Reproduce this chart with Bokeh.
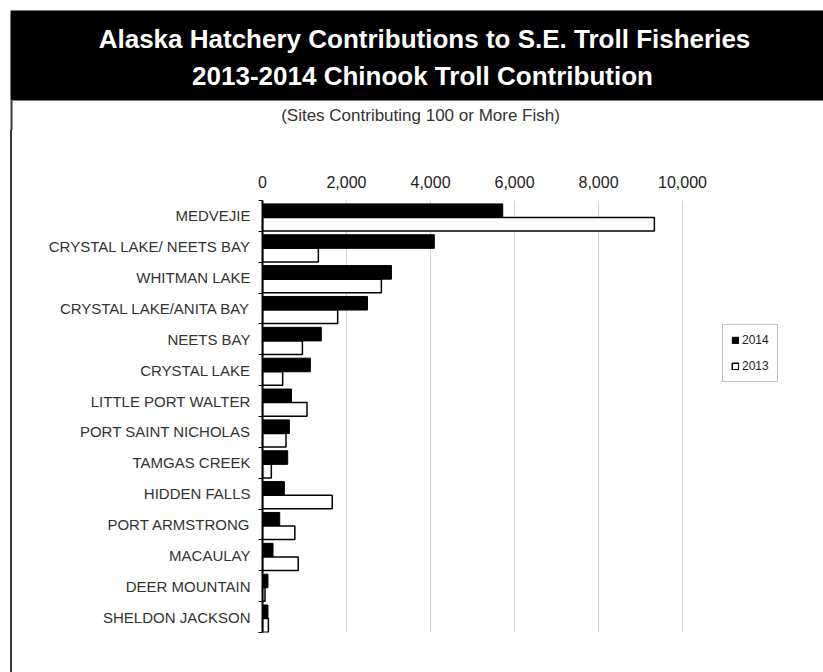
from bokeh.plotting import figure
from bokeh.layouts import column, row
from bokeh.models import (ColumnDataSource, Range1d, LinearAxis, Spacer,
                          FixedTicker, NumeralTickFormatter, Label, BoxAnnotation, Legend, LegendItem, Grid)
from bokeh.transform import dodge
from bokeh.embed import file_html
from bokeh.resources import INLINE

title1 = "Alaska Hatchery Contributions to S.E. Troll Fisheries"
title2 = "2013-2014 Chinook Troll Contribution"
subtitle = "(Sites Contributing 100 or More Fish)"

sites = ["MEDVEJIE", "CRYSTAL LAKE/ NEETS BAY", "WHITMAN LAKE", "CRYSTAL LAKE/ANITA BAY",
         "NEETS BAY", "CRYSTAL LAKE", "LITTLE PORT WALTER", "PORT SAINT NICHOLAS",
         "TAMGAS CREEK", "HIDDEN FALLS", "PORT ARMSTRONG", "MACAULAY",
         "DEER MOUNTAIN", "SHELDON JACKSON"]
fish_2014 = [5720, 4090, 3070, 2500, 1400, 1140, 690, 640, 600, 520, 410, 250, 130, 130]
fish_2013 = [9330, 1330, 2830, 1790, 950, 480, 1060, 560, 210, 1660, 770, 850, 60, 140]
x_ticks = [0, 2000, 4000, 6000, 8000, 10000]
series_names = ["2014", "2013"]

FONT = "Liberation Sans"
TOTAL_W = 823
HEAD_H = 130
BODY_H = 542
LINE_W = 13
EDGE_COLOR = "#3a3a3a"

# ---------------- header (title band + subtitle) ----------------
head = figure(width=TOTAL_W, height=HEAD_H, output_backend="svg", toolbar_location=None,
              x_range=Range1d(0, TOTAL_W), y_range=Range1d(HEAD_H, 0),
              x_axis_location=None, y_axis_location=None, min_border=0)
head.outline_line_color = None
head.grid.visible = False
head.background_fill_color = "white"
head.border_fill_color = "white"
head.add_layout(BoxAnnotation(left=10, right=TOTAL_W, top=10, bottom=100,
                              fill_color="black", fill_alpha=1, line_color=None))
head.add_layout(BoxAnnotation(left=10, right=12, top=100, bottom=HEAD_H,
                              fill_color=EDGE_COLOR, fill_alpha=1, line_color=None))
for txt, y, size, color, style, x in [(title1, 38, "26px", "white", "bold", 424),
                                      (title2, 75, "26px", "white", "bold", 422),
                                      (subtitle, 115, "17px", "#333333", "normal", 420)]:
    head.add_layout(Label(x=x, y=y, text=txt, text_align="center", text_baseline="middle",
                          text_font=FONT, text_font_size=size,
                          text_color=color, text_font_style=style))

# ---------------- left frame line ----------------
gap_left = Spacer(width=10, height=BODY_H)
edge_line = Spacer(width=2, height=BODY_H, styles={"background-color": EDGE_COLOR})
gap_right = Spacer(width=1, height=BODY_H)

# ---------------- chart ----------------
n = len(sites)
slot = [n - i - 0.5 for i in range(n)]   # category slots, top to bottom
src = ColumnDataSource(dict(site=sites, pos=slot, v14=fish_2014, v13=fish_2013))

p = figure(width=TOTAL_W - LINE_W, height=BODY_H, output_backend="svg", toolbar_location=None,
           y_range=Range1d(0, n), x_range=Range1d(0, 12690),
           x_axis_location=None, y_axis_location=None,
           min_border_left=249, min_border_right=28, min_border_top=70, min_border_bottom=40)
p.outline_line_color = None
p.background_fill_color = "white"
p.border_fill_color = "white"
p.ygrid.visible = False
p.xgrid.visible = False

tick = FixedTicker(ticks=x_ticks)
p.add_layout(Grid(dimension=0, ticker=tick, grid_line_color="#d4d4d4", grid_line_width=1))

b14 = p.hbar(y=dodge("pos", 0.17), right="v14", left=0, height=0.44, source=src,
             fill_color="black", line_color="black", line_width=1)
b13 = p.hbar(y=dodge("pos", -0.27), right="v13", left=0, height=0.44, source=src,
             fill_color="white", line_color="black", line_width=1.5)

xa = LinearAxis(ticker=tick, formatter=NumeralTickFormatter(format="0,0"))
xa.axis_line_color = None
xa.major_tick_line_color = None
xa.minor_tick_line_color = None
xa.major_label_standoff = 7
xa.major_label_text_font = FONT
xa.major_label_text_font_size = "16px"
xa.major_label_text_color = "#222222"
p.add_layout(xa, "above")

ya = LinearAxis(ticker=FixedTicker(ticks=slot, minor_ticks=list(range(n + 1))),
                major_label_overrides={s: name for s, name in zip(slot, sites)})
ya.major_tick_line_color = None
ya.major_tick_out = 0
ya.major_tick_in = 0
ya.minor_tick_out = 4
ya.minor_tick_in = 0
ya.minor_tick_line_color = "black"
ya.minor_tick_line_width = 1
ya.axis_line_color = "black"
ya.axis_line_width = 2
ya.major_label_standoff = 8
ya.major_label_text_font = FONT
ya.major_label_text_font_size = "15px"
ya.major_label_text_color = "#333333"
p.add_layout(ya, "left")

legend = Legend(items=[LegendItem(label=series_names[0], renderers=[b14]),
                       LegendItem(label=series_names[1], renderers=[b13])],
                location=(460, 250), orientation="vertical",
                glyph_width=8, glyph_height=8, label_standoff=3, label_height=13,
                spacing=12, padding=8, margin=0,
                label_text_font=FONT, label_text_font_size="12px", label_text_color="#222222",
                border_line_color="#888888", border_line_width=1,
                background_fill_color="white", background_fill_alpha=1)
p.add_layout(legend, "center")

layout = column(head, row(gap_left, edge_line, gap_right, p, spacing=0), spacing=0)
open("out.html", "w").write(file_html(layout, INLINE))
